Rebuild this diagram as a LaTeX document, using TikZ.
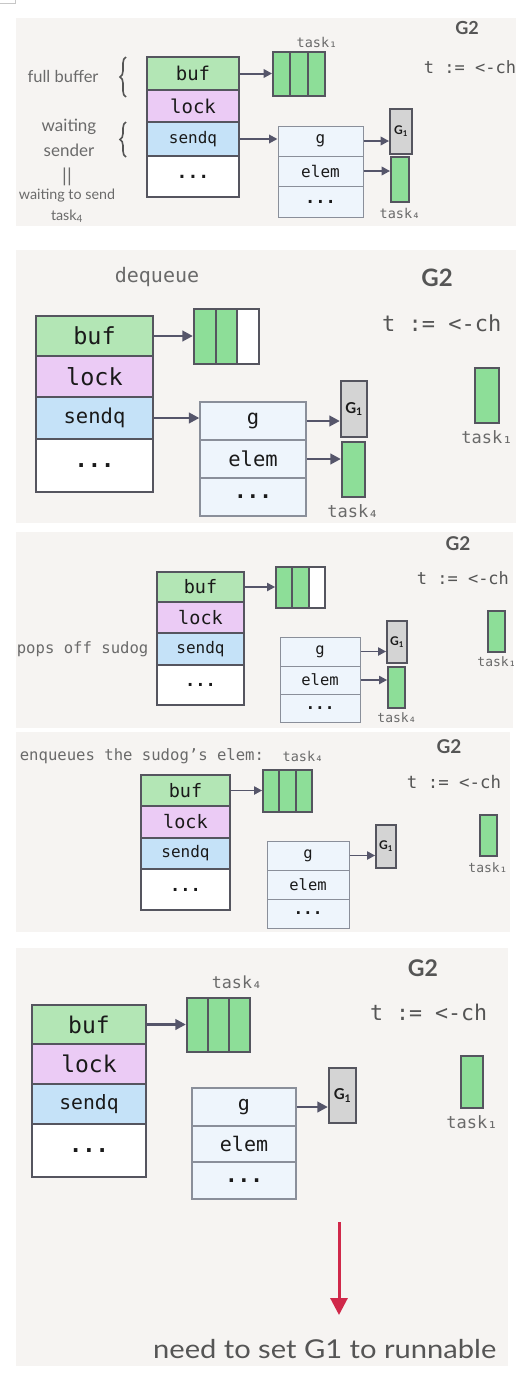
\documentclass[tikz,border=0pt]{standalone}
\usepackage{fontspec}
\setmainfont{Lato}
\newfontfamily\mono{DejaVu Sans Mono}
\usetikzlibrary{arrows.meta,decorations.pathreplacing}
\definecolor{bgc}{HTML}{F6F4F2}
\definecolor{bufc}{HTML}{B3E6B5}
\definecolor{lockc}{HTML}{EBCBF5}
\definecolor{sendc}{HTML}{C5E2F8}
\definecolor{bordc}{HTML}{55555F}
\definecolor{arrg}{HTML}{8DDE98}
\definecolor{sudc}{HTML}{EEF5FC}
\definecolor{sudb}{HTML}{8A8F9A}
\definecolor{gfill}{HTML}{D4D4D4}
\definecolor{arrc}{HTML}{55556A}
\definecolor{txtc}{HTML}{1A1A1A}
\definecolor{lblc}{HTML}{6A6A6A}
\definecolor{titc}{HTML}{555555}
\definecolor{redc}{HTML}{D0284A}
\newcommand\fs[1]{\fontsize{#1}{#1}\selectfont}
\newcommand\mkrect[7]{%
  \pgfmathsetmacro\mkw{#5-#3}\pgfmathsetmacro\mkh{#6-#4}%
  \pgfmathsetmacro\mkx{(#3+#5)/2}\pgfmathsetmacro\mky{(#4+#6)/2}%
  \node[#2,minimum width=\mkw pt,minimum height=\mkh pt] (#1) at (\mkx,\mky) {#7};}
\tikzset{
  chan/.style={draw=bordc, inner sep=0pt, text=txtc},
  bufcell/.style={chan, fill=bufc},
  lockcell/.style={chan, fill=lockc},
  sendcell/.style={chan, fill=sendc},
  dotcell/.style={chan, fill=white},
  sudcell/.style={draw=sudb, fill=sudc, inner sep=0pt, text=txtc},
  arrcell/.style={draw=bordc, fill=arrg, inner sep=0pt},
  emptycell/.style={draw=bordc, fill=white, inner sep=0pt},
  gbox/.style={draw=bordc, fill=gfill, inner sep=0pt, text=txtc},
  conn/.style={draw=arrc, line width=#1, -{Triangle[length=0pt 4.2, width=0pt 4.2]}},
  conn/.default=2pt,
  lbl/.style={text=lblc, inner sep=0pt},
  title/.style={text=titc, inner sep=0pt},
  brc/.style={decorate, decoration={brace, amplitude=6pt}, draw=titc, line width=1.6pt},
  redarr/.style={draw=redc, line width=3pt, -{Triangle[length=17pt, width=17pt]}},
}
\begin{document}
\begin{tikzpicture}[x=1pt,y=-1pt]
\useasboundingbox (0,0) rectangle (520,1376);
\fill[white] (0,0) rectangle (520,1376);
\draw[black!22, line width=0.8pt] (0,3) -- (15,3) -- (15,0);

% ---------------- panel 1
\begin{scope}[line width=1.8pt]
\clip (16,18) rectangle (516,226);
\fill[bgc] (16,18) rectangle (516,226);
\node[title, font=\bfseries\fs{18}] (p1G2) at (467,28) {G2};
\node[title, font=\mono\fs{17}, anchor=west] (p1t) at (423,67) {t := <-ch};
\node[lbl, font=\mono\fs{13.5}] (p1t1) at (317,42) {task₁};
\node[lbl, font=\fs{16.5}] (p1full) at (63,76) {full buffer};
\node[lbl, font=\fs{17}] (p1w1) at (69,127) {waiting};
\node[lbl, font=\fs{17}] (p1w2) at (69,150) {sender};
\node[lbl, font=\fs{19}] (p1eq) at (67,177) {||};
\node[lbl, font=\fs{14.3}] (p1w3) at (67,196) {waiting to send};
\node[lbl, font=\fs{14.3}] (p1w4) at (67,216) {task\textsubscript{4}};
\draw[brc] (126,97) -- (126,57);
\draw[brc] (126,157) -- (126,122);
\mkrect{p1buf}{bufcell,font=\mono\fs{19}}{147}{57}{239}{90}{buf}
\mkrect{p1lock}{lockcell,font=\mono\fs{19}}{147}{90}{239}{122}{lock}
\mkrect{p1send}{sendcell,font=\mono\fs{16}}{147}{122}{239}{156}{sendq}
\mkrect{p1dots}{dotcell,font=\mono\bfseries\fs{18}}{147}{156}{239}{197}{...}
\mkrect{p1a1}{arrcell}{273}{52}{290.3}{96}{}
\mkrect{p1a2}{arrcell}{290.3}{52}{307.7}{96}{}
\mkrect{p1a3}{arrcell}{307.7}{52}{325}{96}{}
\mkrect{p1g}{sudcell,line width=1pt,font=\mono\fs{16}}{278}{126}{363}{156}{g}
\mkrect{p1elem}{sudcell,line width=1pt,font=\mono\fs{16}}{278}{156}{363}{186}{elem}
\mkrect{p1sd}{sudcell,line width=1pt,font=\mono\bfseries\fs{17}}{278}{186}{363}{217}{...}
\mkrect{p1g1}{gbox,font=\bfseries\fs{12}}{390}{109}{412}{154}{G\textsubscript{1}}
\mkrect{p1t4}{arrcell}{391}{157}{409}{202}{}
\node[lbl, font=\mono\fs{13.5}] (p1t4l) at (400,213) {task₄};
\draw[conn] (p1buf.east) -- (p1buf.east -| p1a1.west);
\draw[conn] (p1send.east) -- (p1send.east -| p1g.west);
\draw[conn] (p1g.east) -- (p1g.east -| p1g1.west);
\draw[conn] (p1elem.east) -- (p1elem.east -| p1t4.west);
\end{scope}

% ---------------- panel 2
\begin{scope}[line width=2.3pt]
\clip (16,250) rectangle (516,523);
\fill[bgc] (16,250) rectangle (516,523);
\node[lbl, font=\mono\fs{20}] (p2deq) at (157,277) {dequeue};
\node[title, font=\bfseries\fs{24}] (p2G2) at (437,278) {G2};
\node[title, font=\mono\fs{22}, anchor=west] (p2t) at (381,323) {t := <-ch};
\mkrect{p2buf}{bufcell,font=\mono\fs{23.5}}{36}{316}{153}{356}{buf}
\mkrect{p2lock}{lockcell,font=\mono\fs{23.5}}{36}{356}{153}{397}{lock}
\mkrect{p2send}{sendcell,font=\mono\fs{20.5}}{36}{397}{153}{439}{sendq}
\mkrect{p2dots}{dotcell,font=\mono\bfseries\fs{22}}{36}{439}{153}{492}{...}
\mkrect{p2a1}{arrcell}{194}{309}{215.7}{364}{}
\mkrect{p2a2}{arrcell}{215.7}{309}{237.3}{364}{}
\mkrect{p2a3}{emptycell}{237.3}{309}{259}{364}{}
\mkrect{p2g}{sudcell,line width=1.3pt,font=\mono\fs{20.5}}{200}{402}{306}{440}{g}
\mkrect{p2elem}{sudcell,line width=1.3pt,font=\mono\fs{20.5}}{200}{440}{306}{478}{elem}
\mkrect{p2sd}{sudcell,line width=1.3pt,font=\mono\bfseries\fs{21}}{200}{478}{306}{516}{...}
\mkrect{p2g1}{gbox,font=\bfseries\fs{15}}{341}{381}{367}{437}{G\textsubscript{1}}
\mkrect{p2t4}{arrcell}{342}{442}{365}{497}{}
\node[lbl, font=\mono\fs{17}] (p2t4l) at (353,511) {task₄};
\mkrect{p2t1}{arrcell}{475}{368}{499}{423}{}
\node[lbl, font=\mono\fs{17}] (p2t1l) at (487,437) {task₁};
\draw[conn=2.5pt] (p2buf.east) -- (p2buf.east -| p2a1.west);
\draw[conn=2.5pt] (p2send.east) -- (p2send.east -| p2g.west);
\draw[conn=2.5pt] (p2g.east) -- (p2g.east -| p2g1.west);
\draw[conn=2.5pt] (p2elem.east) -- (p2elem.east -| p2t4.west);
\end{scope}

% ---------------- panel 3
\begin{scope}[line width=1.7pt]
\clip (16,532) rectangle (513,728);
\fill[bgc] (16,532) rectangle (513,728);
\node[title, font=\bfseries\fs{19}] (p3G2) at (458,544) {G2};
\node[title, font=\mono\fs{17}, anchor=west] (p3t) at (416,578) {t := <-ch};
\node[lbl, font=\mono\fs{15.6}, anchor=west] (p3pop) at (16,649) {pops off sudog};
\mkrect{p3buf}{bufcell,font=\mono\fs{18.5}}{157}{572}{244}{602}{buf}
\mkrect{p3lock}{lockcell,font=\mono\fs{18.5}}{157}{602}{244}{633}{lock}
\mkrect{p3send}{sendcell,font=\mono\fs{16}}{157}{633}{244}{665}{sendq}
\mkrect{p3dots}{dotcell,font=\mono\bfseries\fs{17}}{157}{665}{244}{705}{...}
\mkrect{p3a1}{arrcell}{276}{567}{292.3}{608}{}
\mkrect{p3a2}{arrcell}{292.3}{567}{308.7}{608}{}
\mkrect{p3a3}{emptycell}{308.7}{567}{325}{608}{}
\mkrect{p3g}{sudcell,line width=1pt,font=\mono\fs{15.5}}{280}{637}{360}{666}{g}
\mkrect{p3elem}{sudcell,line width=1pt,font=\mono\fs{15.5}}{280}{666}{360}{694}{elem}
\mkrect{p3sd}{sudcell,line width=1pt,font=\mono\bfseries\fs{16}}{280}{694}{360}{722}{...}
\mkrect{p3g1}{gbox,font=\bfseries\fs{12}}{387}{621}{407}{663}{G\textsubscript{1}}
\mkrect{p3t4}{arrcell}{388}{667}{405}{708}{}
\node[lbl, font=\mono\fs{13}] (p3t4l) at (397,718) {task₄};
\mkrect{p3t1}{arrcell}{488}{611}{505}{652}{}
\node[lbl, font=\mono\fs{13}] (p3t1l) at (497,662) {task₁};
\draw[conn=1.9pt] (p3buf.east) -- (p3buf.east -| p3a1.west);
\draw[conn=1.9pt] (p3g.east) -- (p3g.east -| p3g1.west);
\draw[conn=1.9pt] (p3elem.east) -- (p3elem.east -| p3t4.west);
\end{scope}

% ---------------- panel 4
\begin{scope}[line width=1.7pt]
\clip (16,732) rectangle (510,932);
\fill[bgc] (16,732) rectangle (510,932);
\node[lbl, font=\mono\fs{15.6}, anchor=west] (p4enq) at (19,756) {enqueues the sudog’s elem:};
\node[lbl, font=\mono\fs{13.5}] (p4t4l) at (303,756) {task₄};
\node[title, font=\bfseries\fs{19}] (p4G2) at (449,747) {G2};
\node[title, font=\mono\fs{17.4}, anchor=west] (p4t) at (406,782) {t := <-ch};
\mkrect{p4buf}{bufcell,font=\mono\fs{18.5}}{141}{775}{230}{806}{buf}
\mkrect{p4lock}{lockcell,font=\mono\fs{18.5}}{141}{806}{230}{838}{lock}
\mkrect{p4send}{sendcell,font=\mono\fs{16}}{141}{838}{230}{869}{sendq}
\mkrect{p4dots}{dotcell,font=\mono\bfseries\fs{17}}{141}{869}{230}{910}{...}
\mkrect{p4a1}{arrcell}{263}{770}{279.3}{812}{}
\mkrect{p4a2}{arrcell}{279.3}{770}{295.7}{812}{}
\mkrect{p4a3}{arrcell}{295.7}{770}{312}{812}{}
\mkrect{p4g}{sudcell,line width=1pt,font=\mono\fs{15.5}}{267}{841}{349}{870}{g}
\mkrect{p4elem}{sudcell,line width=1pt,font=\mono\fs{15.5}}{267}{870}{349}{899}{elem}
\mkrect{p4sd}{sudcell,line width=1pt,font=\mono\bfseries\fs{16}}{267}{899}{349}{928}{...}
\mkrect{p4g1}{gbox,font=\bfseries\fs{12}}{376}{825}{396}{868}{G\textsubscript{1}}
\mkrect{p4t1}{arrcell}{480}{815}{497}{856}{}
\node[lbl, font=\mono\fs{13}] (p4t1l) at (488,868) {task₁};
\draw[conn=1.9pt] (p4buf.east) -- (p4buf.east -| p4a1.west);
\draw[conn=1.9pt] (p4g.east) -- (p4g.east -| p4g1.west);
\end{scope}

% ---------------- panel 5
\begin{scope}[line width=2.3pt]
\clip (16,948) rectangle (508,1366);
\fill[bgc] (16,948) rectangle (508,1366);
\node[title, font=\bfseries\fs{23}] (p5G2) at (423,968) {G2};
\node[lbl, font=\mono\fs{16.7}] (p5t4l) at (237,982) {task₄};
\node[title, font=\mono\fs{21.6}, anchor=west] (p5t) at (369,1012) {t := <-ch};
\mkrect{p5buf}{bufcell,font=\mono\fs{23}}{32}{1005}{146}{1044}{buf}
\mkrect{p5lock}{lockcell,font=\mono\fs{23}}{32}{1044}{146}{1084}{lock}
\mkrect{p5send}{sendcell,font=\mono\fs{19.7}}{32}{1084}{146}{1124}{sendq}
\mkrect{p5dots}{dotcell,font=\mono\bfseries\fs{22}}{32}{1124}{146}{1177}{...}
\mkrect{p5a1}{arrcell}{187}{998}{208}{1052}{}
\mkrect{p5a2}{arrcell}{208}{998}{229}{1052}{}
\mkrect{p5a3}{arrcell}{229}{998}{250}{1052}{}
\mkrect{p5g}{sudcell,line width=1.3pt,font=\mono\fs{20}}{192}{1088}{296}{1126}{g}
\mkrect{p5elem}{sudcell,line width=1.3pt,font=\mono\fs{20}}{192}{1126}{296}{1162}{elem}
\mkrect{p5sd}{sudcell,line width=1.3pt,font=\mono\bfseries\fs{21}}{192}{1162}{296}{1199}{...}
\mkrect{p5g1}{gbox,font=\bfseries\fs{15}}{329}{1068}{356}{1123}{G\textsubscript{1}}
\mkrect{p5t1}{arrcell}{461}{1056}{483}{1108}{}
\node[lbl, font=\mono\fs{17}] (p5t1l) at (472,1122) {task₁};
\draw[conn=2.5pt] (p5buf.east) -- (p5buf.east -| p5a1.west);
\draw[conn=2.5pt] (p5g.east) -- (p5g.east -| p5g1.west);
\coordinate (p5ra) at (339,1222);
\coordinate (p5rb) at (339,1315);
\draw[redarr] (p5ra) -- (p5rb);
\node[text=titc, inner sep=0pt, font=\fs{26}, anchor=base west] (p5need) at (152,1358) {\scalebox{1.12}[1]{need to set G1 to runnable}};
\end{scope}
\end{tikzpicture}
\end{document}
